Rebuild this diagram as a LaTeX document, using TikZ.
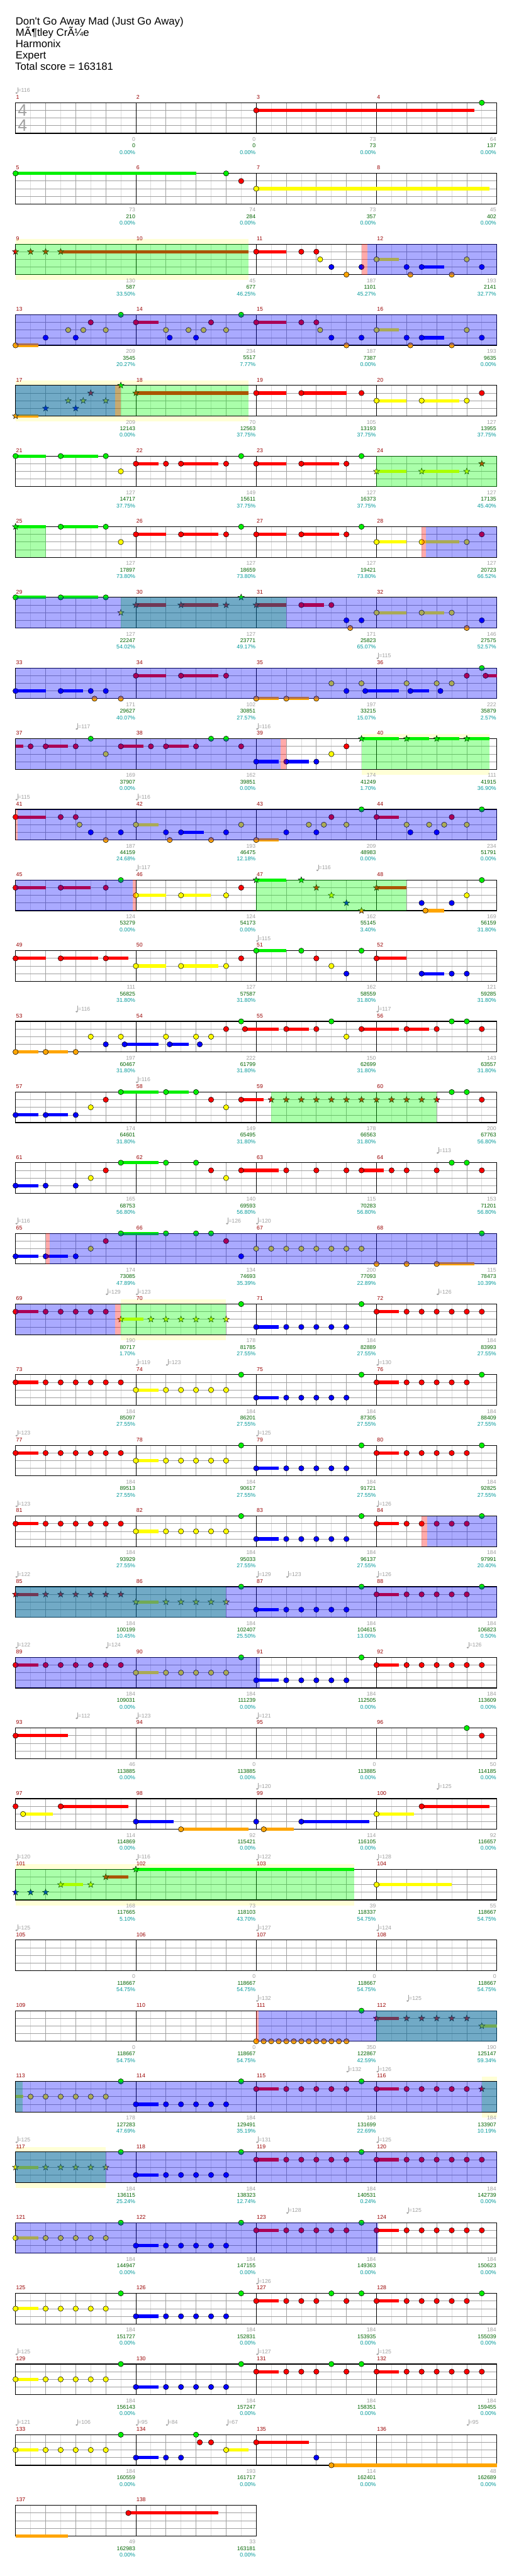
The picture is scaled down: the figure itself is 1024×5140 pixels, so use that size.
\documentclass[tikz,border=0pt]{standalone}
\usepackage{fontspec}
\newfontfamily\chartfont{Liberation Sans}
\definecolor{lane0}{HTML}{00F000}
\definecolor{lane1}{HTML}{FF0000}
\definecolor{lane2}{HTML}{FFFF00}
\definecolor{lane3}{HTML}{0000FF}
\definecolor{lane4}{HTML}{FFA500}
\definecolor{measred}{HTML}{990000}
\definecolor{ptgray}{HTML}{A0A0A0}
\definecolor{ptgreen}{HTML}{006400}
\definecolor{ptteal}{HTML}{009999}
\definecolor{bandyel}{HTML}{FFFFD6}
\definecolor{gridlight}{HTML}{DCDCDC}
\definecolor{gridmid}{HTML}{A0A0A0}

\tikzset{
  eighthline/.style={gridlight,line width=0.75pt},
  beatline/.style={gridmid,line width=0.75pt},
  barline/.style={black,line width=0.75pt},
  staffframe/.style={black,line width=1.1pt},
  gem/.style={draw=black,line width=0.5pt},
  stargem/.style={draw=black,line width=0.45pt,line join=miter},
  spshade/.style={fill=green,fill opacity=0.333},
  odshade/.style={fill=blue,fill opacity=0.333},
  actshade/.style={fill=red,fill opacity=0.333},
  small/.style={font=\chartfont\fontsize{8.25}{9}\selectfont,inner sep=0pt},
  measnum/.style={small,text=measred,anchor=west},
  ptrow/.style={small,anchor=east},
  tempotext/.style={small,text=ptgray,anchor=west},
  timesig/.style={font=\chartfont\fontsize{25}{25}\selectfont,text=ptgray,inner sep=0pt},
  titletext/.style={font=\chartfont\fontsize{15.75}{18}\selectfont,anchor=base west,inner sep=0pt}
}

% one staff of #1 measures, eighths 30px apart
\newcommand{\staffgrid}[1]{%
  \pgfmathtruncatemacro{\lastE}{8*#1}%
  \pgfmathtruncatemacro{\lastOdd}{8*#1-1}%
  \fill[white] (0,0) rectangle (30*\lastE,61);
  \foreach \k in {1,3,...,\lastOdd} {\draw[eighthline] (30*\k,0) -- (30*\k,61);}
  \foreach \k in {2,4,...,\lastE} {\draw[beatline] (30*\k,0) -- (30*\k,61);}
  \foreach \j in {1,2,3} {\draw[beatline] (0,15.25*\j) -- (30*\lastE,15.25*\j);}
  \foreach \k in {8,16,...,\lastE} {\draw[barline] (30*\k,0) -- (30*\k,61);}
  \draw[staffframe] (0,0) rectangle (30*\lastE,61);}
\newcommand{\band}[2]{\fill[bandyel] (30*#1,-10) rectangle (30*#2,72);}
\newcommand{\sustains}[1]{\foreach \a/\b/\l in {#1} {\fill[lane\l] (30*\a,15.25*\l-3.25) rectangle (30*\b,15.25*\l+3.25);}}
\newcommand{\gems}[1]{\foreach \a/\l in {#1} {\filldraw[gem,fill=lane\l] (30*\a,15.25*\l) circle (5.3);}}
\newcommand{\stars}[1]{\foreach \a/\l in {#1} {\filldraw[stargem,fill=lane\l] (30*\a,15.25*\l) +(-90:6.5) \foreach \t in {0,...,4} {-- +(-54+72*\t:2.7) -- +(-18+72*\t:6.5)} -- cycle;}}
\newcommand{\sparea}[2]{\fill[spshade] (30*#1,0) rectangle (30*#2,61);}
\newcommand{\odarea}[2]{\fill[odshade] (30*#1,0) rectangle (30*#2,61);}
\newcommand{\actarea}[2]{\fill[actshade] (30*#1,0) rectangle (30*#2,61);}
\newcommand{\measnums}[2]{\foreach \i in {1,...,#2} {\pgfmathtruncatemacro{\mm}{#1+\i-1}\node[measnum] (n\mm) at ({240*(\i-1)+1},-11) {\mm};}}
\newcommand{\scores}[2]{\foreach \ga/\gb/\gc [count=\i] in {#2} {%
  \pgfmathtruncatemacro{\mm}{#1+\i-1}%
  \node[ptrow,text=ptgray] (p\mm) at (240*\i-1,73) {\ga};
  \node[ptrow,text=ptgreen] (t\mm) at (240*\i-1,86) {\gb};
  \node[ptrow,text=ptteal] (q\mm) at (240*\i-1,99) {\gc\%};}}
\newcommand{\tempos}[2]{\foreach \a/\v [count=\c] in {#2} {%
  \fill[ptgray] (30*\a+2,-19.5) ellipse (2.3 and 1.7);
  \draw[ptgray,line width=0.5pt] (30*\a+4.1,-20) -- (30*\a+4.1,-31);
  \node[tempotext] (tm#1-\c) at (30*\a+4.6,-24.5) {=\v};}}

\begin{document}
\begin{tikzpicture}[x=0.75pt,y=-0.75pt]
\useasboundingbox (0,0) rectangle (1024,5140);
\fill[white] (0,0) rectangle (1024,5140);
% header
\node[titletext] (song) at (31,50) {Don't Go Away Mad (Just Go Away)};
\node[titletext] (band) at (31,72.5) {MÃ¶tley CrÃ¼e};
\node[titletext] (chart) at (31,95) {Harmonix};
\node[titletext] (level) at (31,117.5) {Expert};
\node[titletext] (total) at (30,140) {Total score = 163181};
% measures 1-4
\begin{scope}[shift={(31,205)}]
 \staffgrid{4}
 \node[timesig] (ts1) at (14,15) {4};
 \node[timesig] (ts2) at (14,45) {4};
 \sustains{16/30.5/1}
 \gems{16/1,31/0}
 \measnums{1}{4}
 \scores{1}{0/0/0.00,0/0/0.00,73/73/0.00,64/137/0.00}
 \tempos{0}{0/116}
\end{scope}
% measures 5-8
\begin{scope}[shift={(31,346)}]
 \staffgrid{4}
 \sustains{0/12/0,16/31.5/2}
 \gems{0/0,14/0,15/1,16/2}
 \measnums{5}{4}
 \scores{5}{73/210/0.00,74/284/0.00,73/357/0.00,45/402/0.00}
\end{scope}
% measures 9-12
\begin{scope}[shift={(31,487)}]
 \band{0}{15.5}
 \staffgrid{4}
 \sustains{3/15.5/1,16/18/1,24/25.5/2,27/28.5/3}
 \gems{16/1,19/1,20/1,20.25/2,21/3,22/4,23/3,24/2,26/3,26.25/4,27/3,29/4,30/2,31/3}
 \stars{0/1,1/1,2/1,3/1}
 \sparea{0}{15.5}
 \actarea{23}{23.4}
 \odarea{23.4}{32}
 \measnums{9}{4}
 \scores{9}{130/587/33.50,45/677/46.25,187/1101/45.27,193/2141/32.77}
\end{scope}
% measures 13-16
\begin{scope}[shift={(31,628)}]
 \staffgrid{4}
 \sustains{0/1.5/4,8/9.5/1,16/18/1,24/25.5/2,27/28.5/3}
 \gems{0/4,2/3,3.5/2,4/3,4.5/2,5/1,6/2,7/0,8/1,10/2,10.25/3,11.5/2,12/3,12.5/2,13/1,14/2,15/0,16/1,19/1,20/1,20.25/2,21/3,22/4,23/3,24/2,26/3,26.25/4,27/3,29/4,30/2,31/3}
 \odarea{0}{32}
 \measnums{13}{4}
 \scores{13}{209/3545/20.27,234/5517/7.77,187/7387/0.00,193/9635/0.00}
\end{scope}
% measures 17-20
\begin{scope}[shift={(31,769)}]
 \band{0}{15.5}
 \staffgrid{4}
 \sustains{0/1.5/4,8/15.5/1,16/18/1,19/22/1,24/26/2,27/29.5/2}
 \gems{16/1,19/1,23/1,24/2,27/2,30/2,31/1}
 \stars{0/4,2/3,3.5/2,4/3,4.5/2,5/1,6/2,7/0,8/1}
 \sparea{0}{15.5}
 \odarea{0}{6.62}
 \actarea{6.62}{7}
 \measnums{17}{4}
 \scores{17}{209/12143/0.00,70/12563/37.75,105/13193/37.75,127/13955/37.75}
\end{scope}
% measures 21-24
\begin{scope}[shift={(31,910)}]
 \staffgrid{4}
 \sustains{0/2/0,3/5.5/0,8/9.5/1,11/13.5/1,16/18/1,19/21.5/1,24/26/2,27/29.5/2}
 \gems{0/0,3/0,6/0,7/2,8/1,10/1,11/1,14/1,15/0,16/1,19/1,22/1,23/0}
 \stars{24/2,27/2,30/2,31/1}
 \sparea{24}{32}
 \measnums{21}{4}
 \scores{21}{127/14717/37.75,149/15611/37.75,127/16373/37.75,127/17135/45.40}
\end{scope}
% measures 25-28
\begin{scope}[shift={(31,1051)}]
 \staffgrid{4}
 \sustains{0/2/0,3/5.5/0,8/10/1,11/13.5/1,16/18/1,19/21.5/1,24/26/2,27/29.5/2}
 \gems{3/0,6/0,7/2,8/1,11/1,14/1,15/0,16/1,19/1,22/1,23/0,24/2,27/2,30/2,31/1}
 \stars{0/0}
 \sparea{0}{2}
 \actarea{27}{27.3}
 \odarea{27.3}{32}
 \measnums{25}{4}
 \scores{25}{127/17897/73.80,127/18659/73.80,127/19421/73.80,127/20723/66.52}
\end{scope}
% measures 29-32
\begin{scope}[shift={(31,1192)}]
 \staffgrid{4}
 \sustains{0/2/0,3/5.5/0,8/10/1,11/13.5/1,16/18/1,19/20.5/1,24/26/2,27/28.5/2}
 \gems{0/0,3/0,6/0,19/1,21/1,22/3,22.25/4,23/3,24/2,27/2,29/2,30/4,31/3}
 \stars{7/2,8/1,11/1,14/1,15/0,16/1}
 \sparea{7}{18}
 \odarea{0}{32}
 \measnums{29}{4}
 \scores{29}{127/22247/54.02,127/23771/49.17,171/25823/65.07,146/27575/52.57}
\end{scope}
% measures 33-36
\begin{scope}[shift={(31,1333)}]
 \staffgrid{4}
 \sustains{0/2/3,3/4.5/3,8/10/1,11/13.5/1,16/17.5/4,18/19.5/4,23.25/25.5/3,26.25/27.5/3,31.25/32/1}
 \gems{0/3,3/3,5/3,5.25/4,6/3,7/4,8/1,11/1,14/1,16/4,18/4,20/4,21/2,22/3,23/2,23.25/3,26/2,26.25/3,28/2,28.25/3,29/2,30/1,31/0,31.25/1}
 \odarea{0}{32}
 \measnums{33}{4}
 \scores{33}{171/29627/40.07,102/30851/27.57,197/33215/15.07,222/35879/2.57}
 \tempos{8}{24/115}
\end{scope}
% measures 37-40
\begin{scope}[shift={(31,1474)}]
 \band{23}{31.5}
 \staffgrid{4}
 \sustains{0/0.5/1,2/3.5/1,7/8.5/1,10/11.5/1,16/17.5/3,18/19.5/3,23/25.5/0,26/27.5/0,28/29.5/0,30/31.5/0}
 \gems{1/1,2/1,4/1,5/0,6/2,7/1,9/1,10/1,12/1,13/0,14/0,15/1,16/3,18/3,20/3,21/2,22/1}
 \stars{23/0,26/0,28/0,30/0}
 \sparea{23}{31.5}
 \odarea{0}{17.63}
 \actarea{17.63}{18}
 \measnums{37}{4}
 \scores{37}{169/37907/0.00,162/39851/0.00,174/41249/1.70,111/41915/36.90}
 \tempos{9}{4/117,16/116}
\end{scope}
% measures 41-44
\begin{scope}[shift={(31,1615)}]
 \staffgrid{4}
 \sustains{0/2/1,8/9.5/2,11/12.5/3,16/17.5/4,24/25.5/1}
 \gems{0/1,3/1,4/1,4.25/2,5/3,6/4,7/3,8/2,10/3,10.25/4,11/3,13/4,14/3,15/2,16/4,18/3,19.5/2,20/3,20.5/2,21/1,22/2,23/0,24/1,26/2,26.25/3,27.5/2,28/3,28.5/2,29/1,30/2,31/0}
 \actarea{0}{0.15}
 \odarea{0.15}{32}
 \measnums{41}{4}
 \scores{41}{187/44159/24.68,193/46475/12.18,209/48983/0.00,234/51791/0.00}
 \tempos{10}{0/115,8/116}
\end{scope}
% measures 45-48
\begin{scope}[shift={(31,1756)}]
 \staffgrid{4}
 \sustains{0/2/1,3/5/1,8/10/2,11/13/2,16/18/0,24/26/1,27.25/28.5/4}
 \gems{0/1,3/1,6/1,7/0,8/2,11/2,14/2,15/1,27/3,27.25/4,29/3,30/2,31/0}
 \stars{16/0,19/0,20/1,21/2,22/3,23/4,24/1}
 \sparea{16}{26}
 \odarea{0}{7.8}
 \actarea{7.8}{8}
 \measnums{45}{4}
 \scores{45}{124/53279/0.00,124/54173/0.00,162/55145/3.40,169/56159/31.80}
 \tempos{11}{8/117,20/116}
\end{scope}
% measures 49-52
\begin{scope}[shift={(31,1897)}]
 \staffgrid{4}
 \sustains{0/2/1,3/5.5/1,6/7.5/1,8/10/2,11/13.5/2,16/18/0,24/26/1,27/28.5/3}
 \gems{0/1,3/1,6/1,8/2,11/2,14/2,15/1,16/0,19/0,20/1,21/2,22/3,23/0,24/1,27/3,29/3,30/3}
 \measnums{49}{4}
 \scores{49}{111/56825/31.80,127/57587/31.80,162/58559/31.80,121/59285/31.80}
 \tempos{12}{16/115}
\end{scope}
% measures 53-56
\begin{scope}[shift={(31,2038)}]
 \staffgrid{4}
 \sustains{0/1.5/4,2/3.5/4,7.25/9.5/3,10.25/11.5/3,15.25/17.5/1,18/19.5/1,23/25.5/1,26/27.5/1}
 \gems{0/4,2/4,4/4,5/2,6/3,7/2,7.25/3,10/2,10.25/3,12/2,12.25/3,13/2,14/1,15/0,15.25/1,18/1,20/1,21/0,22/2,23/1,26/1,28/1,29/0,30/0,31/1}
 \measnums{53}{4}
 \scores{53}{197/60467/31.80,222/61799/31.80,150/62699/31.80,143/63557/31.80}
 \tempos{13}{4/116,24/117}
\end{scope}
% measures 57-60
\begin{scope}[shift={(31,2179)}]
 \staffgrid{4}
 \sustains{0/1.5/3,2/3.5/3,7/9.5/0,10/11.5/0,15/16.5/1}
 \gems{0/3,2/3,4/3,5/2,6/1,7/0,10/0,12/0,13/1,14/2,15/1,29/0,30/0,31/1}
 \stars{17/1,18/1,19/1,20/1,21/1,22/1,23/1,24/1,25/1,26/1,27/1,28/1}
 \sparea{17}{28}
 \measnums{57}{4}
 \scores{57}{174/64601/31.80,149/65495/31.80,178/66563/31.80,200/67763/56.80}
 \tempos{14}{8/116}
\end{scope}
% measures 61-64
\begin{scope}[shift={(31,2320)}]
 \staffgrid{4}
 \sustains{0/1.5/3,7/9.5/0,15/17.5/1,23/24.5/1}
 \gems{0/3,2/3,4/3,5/2,6/1,7/0,10/0,12/0,13/1,14/2,15/1,18/1,20/1,22/1,23/1,25/1,26/1,28/1,29/0,30/0,31/1}
 \measnums{61}{4}
 \scores{61}{165/68753/56.80,140/69593/56.80,115/70283/56.80,153/71201/56.80}
 \tempos{15}{28/113}
\end{scope}
% measures 65-68
\begin{scope}[shift={(31,2461)}]
 \staffgrid{4}
 \sustains{0/1.5/3,2/3.5/3,7/9.5/0,28/30.5/4}
 \gems{0/3,2/3,4/3,5/2,6/1,7/0,10/0,12/0,13/0,14/1,15/3,16/2,17/2,18/2,19/2,20/2,21/2,22/2,23/2,24/4,26/4,28/4,31/0}
 \actarea{2}{2.26}
 \odarea{2.26}{32}
 \measnums{65}{4}
 \scores{65}{174/73085/47.89,134/74693/35.39,200/77093/22.89,115/78473/10.39}
 \tempos{16}{0/116,14/126,16/120}
\end{scope}
% measures 69-72
\begin{scope}[shift={(31,2602)}]
 \band{7}{14}
 \staffgrid{4}
 \sustains{0/1.5/1,7/8.5/2,16/17.5/3,24/25.5/1}
 \gems{0/1,2/1,3/1,4/1,5/1,6/1,15/0,16/3,18/3,19/3,20/3,21/3,22/3,23/0,24/1,26/1,27/1,28/1,29/1,30/1,31/1}
 \stars{7/2,9/2,10/2,11/2,12/2,13/2,14/2}
 \sparea{7}{14}
 \odarea{0}{6.62}
 \actarea{6.62}{7}
 \measnums{69}{4}
 \scores{69}{190/80717/1.70,178/81785/27.55,184/82889/27.55,184/83993/27.55}
 \tempos{17}{6/129,8/123,28/126}
\end{scope}
% measures 73-76
\begin{scope}[shift={(31,2743)}]
 \staffgrid{4}
 \sustains{0/1.5/1,8/9.5/2,16/17.5/3,24/25.5/1}
 \gems{0/1,2/1,3/1,4/1,5/1,6/1,7/1,8/2,10/2,11/2,12/2,13/2,14/2,15/0,16/3,18/3,19/3,20/3,21/3,22/3,23/0,24/1,26/1,27/1,28/1,29/1,30/1,31/0}
 \measnums{73}{4}
 \scores{73}{184/85097/27.55,184/86201/27.55,184/87305/27.55,184/88409/27.55}
 \tempos{18}{8/119,10/123,24/130}
\end{scope}
% measures 77-80
\begin{scope}[shift={(31,2884)}]
 \staffgrid{4}
 \sustains{0/1.5/1,8/9.5/2,16/17.5/3,24/25.5/1}
 \gems{0/1,2/1,3/1,4/1,5/1,6/1,7/1,8/2,10/2,11/2,12/2,13/2,14/2,15/0,16/3,18/3,19/3,20/3,21/3,22/3,23/0,24/1,26/1,27/1,28/1,29/1,30/1,31/0}
 \measnums{77}{4}
 \scores{77}{184/89513/27.55,184/90617/27.55,184/91721/27.55,184/92825/27.55}
 \tempos{19}{0/123,16/125}
\end{scope}
% measures 81-84
\begin{scope}[shift={(31,3025)}]
 \staffgrid{4}
 \sustains{0/1.5/1,8/9.5/2,16/17.5/3,24/25.5/1}
 \gems{0/1,2/1,3/1,4/1,5/1,6/1,7/1,8/2,10/2,11/2,12/2,13/2,14/2,15/0,16/3,18/3,19/3,20/3,21/3,22/3,23/0,24/1,26/1,27/1,28/1,29/1,30/1,31/0}
 \actarea{27}{27.37}
 \odarea{27.37}{32}
 \measnums{81}{4}
 \scores{81}{184/93929/27.55,184/95033/27.55,184/96137/27.55,184/97991/20.40}
 \tempos{20}{0/123,24/126}
\end{scope}
% measures 85-88
\begin{scope}[shift={(31,3166)}]
 \staffgrid{4}
 \sustains{0/1.5/1,8/9.5/2,16/17.5/3,24/25.5/1}
 \gems{15/0,16/3,18/3,19/3,20/3,21/3,22/3,23/0,24/1,26/1,27/1,28/1,29/1,30/1,31/0}
 \stars{0/1,2/1,3/1,4/1,5/1,6/1,7/1,8/2,10/2,11/2,12/2,13/2,14/2}
 \sparea{0}{14}
 \odarea{0}{32}
 \measnums{85}{4}
 \scores{85}{184/100199/10.45,184/102407/25.50,184/104615/13.00,184/106823/0.50}
 \tempos{21}{0/122,16/129,18/123,24/126}
\end{scope}
% measures 89-92
\begin{scope}[shift={(31,3307)}]
 \staffgrid{4}
 \sustains{0/1.5/1,8/9.5/2,16/17.5/3,24/25.5/1}
 \gems{0/1,2/1,3/1,4/1,5/1,6/1,7/1,8/2,10/2,11/2,12/2,13/2,14/2,15/0,16/3,18/3,19/3,20/3,21/3,22/3,23/0,24/1,26/1,27/1,28/1,29/1,30/1,31/1}
 \odarea{0}{16.26}
 \measnums{89}{4}
 \scores{89}{184/109031/0.00,184/111239/0.00,184/112505/0.00,184/113609/0.00}
 \tempos{22}{0/122,6/124,30/126}
\end{scope}
% measures 93-96
\begin{scope}[shift={(31,3448)}]
 \staffgrid{4}
 \sustains{0/3.5/1}
 \gems{0/1,30/0,31/1}
 \measnums{93}{4}
 \scores{93}{46/113885/0.00,0/113885/0.00,0/113885/0.00,50/114185/0.00}
 \tempos{23}{4/112,8/123,16/121}
\end{scope}
% measures 97-100
\begin{scope}[shift={(31,3589)}]
 \staffgrid{4}
 \sustains{0.5/2.5/2,3/7.5/1,8/10.5/3,11/15.5/4,16.5/18.5/4,19/23.5/3,24/26.5/2,27/31.5/1}
 \gems{0/1,0.5/2,3/1,8/3,11/4,16/3,16.5/4,19/3,24/2,27/1}
 \measnums{97}{4}
 \scores{97}{114/114869/0.00,92/115421/0.00,114/116105/0.00,92/116657/0.00}
 \tempos{24}{16/120,28/125}
\end{scope}
% measures 101-104
\begin{scope}[shift={(31,3730)}]
 \band{0}{22.5}
 \staffgrid{4}
 \sustains{3/4.5/2,6/7.5/1,8/22.5/0,24/29/2}
 \gems{24/2}
 \stars{0/3,1/3,2/3,3/2,5/2,6/1,8/0}
 \sparea{0}{22.5}
 \measnums{101}{4}
 \scores{101}{168/117665/5.10,73/118103/43.70,39/118337/54.75,55/118667/54.75}
 \tempos{25}{0/120,8/116,16/122,24/128}
\end{scope}
% measures 105-108
\begin{scope}[shift={(31,3871)}]
 \staffgrid{4}
 \measnums{105}{4}
 \scores{105}{0/118667/54.75,0/118667/54.75,0/118667/54.75,0/118667/54.75}
 \tempos{26}{0/125,16/127,24/124}
\end{scope}
% measures 109-112
\begin{scope}[shift={(31,4012)}]
 \staffgrid{4}
 \sustains{24/25.5/1,31/32/2}
 \gems{16/4,16.5/4,17/4,17.5/4,18/4,18.5/4,19/4,19.5/4,20/4,20.5/4,21/4,21.5/4,22/4,23/0}
 \stars{24/1,26/1,27/1,28/1,29/1,30/1,31/2}
 \sparea{24}{32}
 \actarea{16}{16.17}
 \odarea{16.17}{32}
 \measnums{109}{4}
 \scores{109}{0/118667/54.75,0/118667/54.75,350/122867/42.59,190/125147/59.34}
 \tempos{27}{16/132,26/125}
\end{scope}
% measures 113-116
\begin{scope}[shift={(31,4153)}]
 \band{31}{32}
 \staffgrid{4}
 \sustains{0/0.5/2,8/9.5/3,16/17.5/1,24/25.5/1}
 \gems{1/2,2/2,3/2,4/2,5/2,6/2,7/0,8/3,10/3,11/3,12/3,13/3,14/3,15/0,16/1,18/1,19/1,20/1,21/1,22/1,23/0,24/1,26/1,27/1,28/1,29/1,30/1}
 \stars{31/1}
 \sparea{0}{0.48}
 \sparea{31}{32}
 \odarea{0}{32}
 \measnums{113}{4}
 \scores{113}{178/127283/47.69,184/129491/35.19,184/131699/22.69,184/133907/10.19}
 \tempos{28}{22/132,24/126}
\end{scope}
% measures 117-120
\begin{scope}[shift={(31,4294)}]
 \band{0}{6}
 \staffgrid{4}
 \sustains{0/1.5/2,8/9.5/3,16/17.5/1,24/25.5/1}
 \gems{7/0,8/3,10/3,11/3,12/3,13/3,14/3,15/0,16/1,18/1,19/1,20/1,21/1,22/1,23/0,24/1,26/1,27/1,28/1,29/1,30/1,31/1}
 \stars{0/2,2/2,3/2,4/2,5/2,6/2}
 \sparea{0}{6}
 \odarea{0}{32}
 \measnums{117}{4}
 \scores{117}{184/136115/25.24,184/138323/12.74,184/140531/0.24,184/142739/0.00}
 \tempos{29}{0/125,16/131,24/125}
\end{scope}
% measures 121-124
\begin{scope}[shift={(31,4435)}]
 \staffgrid{4}
 \sustains{0/1.5/2,8/9.5/3,16/17.5/1,24/25.5/1}
 \gems{0/2,2/2,3/2,4/2,5/2,6/2,7/0,8/3,10/3,11/3,12/3,13/3,14/3,15/0,16/1,18/1,19/1,20/1,21/1,22/1,23/0,24/1,26/1,27/1,28/1,29/1,30/1,31/1}
 \odarea{0}{24.1}
 \measnums{121}{4}
 \scores{121}{184/144947/0.00,184/147155/0.00,184/149363/0.00,184/150623/0.00}
 \tempos{30}{18/128,26/125}
\end{scope}
% measures 125-128
\begin{scope}[shift={(31,4576)}]
 \staffgrid{4}
 \sustains{0/1.5/2,8/9.5/3,16/17.5/1,24/25.5/1}
 \gems{0/2,2/2,3/2,4/2,5/2,6/2,7/0,8/3,10/3,11/3,12/3,13/3,14/3,15/0,16/1,18/1,19/1,20/1,21/0,22/1,23/0,24/1,26/1,27/1,28/1,29/1,30/1,31/0}
 \measnums{125}{4}
 \scores{125}{184/151727/0.00,184/152831/0.00,184/153935/0.00,184/155039/0.00}
 \tempos{31}{16/126}
\end{scope}
% measures 129-132
\begin{scope}[shift={(31,4717)}]
 \staffgrid{4}
 \sustains{0/1.5/2,8/9.5/3,16/17.5/1,24/25.5/1}
 \gems{0/2,2/2,3/2,4/2,5/2,6/2,7/0,8/3,10/3,11/3,12/3,13/3,14/3,15/0,16/1,18/1,19/1,20/1,21/0,22/1,23/0,24/1,26/1,27/1,28/1,29/1,30/1,31/1}
 \measnums{129}{4}
 \scores{129}{184/156143/0.00,184/157247/0.00,184/158351/0.00,184/159455/0.00}
 \tempos{32}{0/125,16/127,24/125}
\end{scope}
% measures 133-136
\begin{scope}[shift={(31,4858)}]
 \staffgrid{4}
 \sustains{0/1.5/2,8/9.5/3,14/15.5/2,16/19.5/1,21/32/4}
 \gems{0/2,2/2,3/2,4/2,5/2,6/2,7/0,8/3,10/3,11/3,12/0,12.25/1,13/1,14/2,16/1,20/3,21/4}
 \measnums{133}{4}
 \scores{133}{184/160559/0.00,193/161717/0.00,114/162401/0.00,48/162689/0.00}
 \tempos{33}{0/121,4/106,8/95,10/84,14/67,30/95}
\end{scope}
% measures 137-138
\begin{scope}[shift={(31,4999)}]
 \staffgrid{2}
 \sustains{0/3.5/4,7.5/13.5/1}
 \gems{7.5/1}
 \measnums{137}{2}
 \scores{137}{49/162983/0.00,33/163181/0.00}
\end{scope}
\end{tikzpicture}
\end{document}
